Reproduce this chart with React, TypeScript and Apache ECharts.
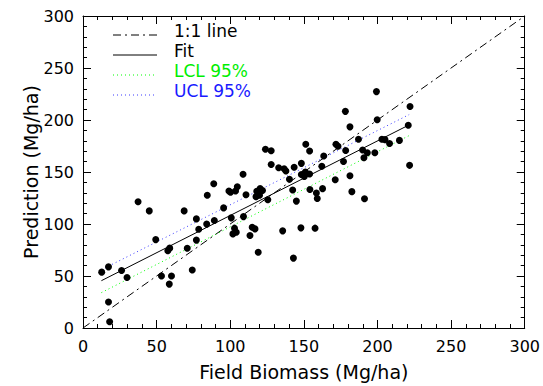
import React, { useEffect, useRef } from "react";
import * as echarts from "echarts";

// Field biomass (x) vs prediction (y), Mg/ha
const fieldBiomass: number[] = [
  12.7, 17.3, 26.2, 29.9, 17.3, 18.1, 37.4, 45.0, 68.7, 49.4,
  57.6, 58.9, 70.8, 53.3, 60.1, 58.6, 74.2, 77.0, 78.6, 77.0,
  84.0, 89.2, 95.5, 84.4, 88.8, 99.1, 100.2, 103.6, 104.8, 110.7,
  108.7, 118.0, 120.3, 121.9, 117.5, 119.9, 100.7, 109.0, 125.5, 102.9,
  104.1, 101.8, 114.9, 116.8, 113.4, 119.0, 123.9, 127.8, 127.8, 132.9,
  136.6, 137.8, 143.4, 148.3, 151.3, 153.9, 140.2, 148.3, 151.0, 150.3,
  153.9, 142.4, 154.1, 158.5, 162.7, 159.1, 144.9, 135.6, 148.0, 157.6,
  142.9, 163.5, 162.2, 171.8, 173.2, 178.4, 176.9, 171.3, 178.2, 181.3,
  187.1, 181.3, 182.6, 191.2, 199.3, 199.8, 203.0, 205.1, 208.2, 214.9,
  189.9, 193.1, 198.2, 190.8, 222.1, 220.9, 221.8,
];
const prediction: number[] = [
  53.7, 58.8, 55.3, 48.6, 25.0, 6.0, 121.4, 112.6, 112.6, 85.0,
  74.2, 76.8, 76.6, 50.0, 50.0, 42.2, 55.8, 104.9, 95.0, 84.5,
  99.9, 103.3, 115.5, 127.6, 138.7, 131.8, 130.5, 131.8, 135.8, 128.1,
  147.8, 131.5, 134.2, 132.2, 126.3, 127.6, 105.9, 107.1, 123.4, 96.0,
  92.1, 90.5, 96.9, 95.3, 88.9, 72.9, 171.9, 170.4, 157.2, 154.1,
  153.2, 151.0, 154.5, 158.3, 176.6, 170.2, 143.1, 147.6, 150.0, 145.7,
  148.1, 132.7, 133.2, 129.8, 134.0, 124.6, 122.0, 93.4, 96.3, 96.0,
  67.2, 165.4, 155.5, 176.6, 174.7, 170.6, 160.1, 142.6, 208.3, 193.4,
  181.5, 146.4, 131.1, 124.3, 227.3, 200.2, 181.5, 181.1, 177.4, 180.4,
  171.1, 168.5, 168.5, 163.7, 212.9, 194.9, 156.4,
];

const oneToOneLine: number[][] = [[0, 0], [300, 300]];
const fitLine: number[][] = [[12.5, 45.5], [221.5, 195.3]];
const lclLine: number[][] = [[12.5, 34.0], [221.5, 185.0]];
const uclLine: number[][] = [[12.5, 56.0], [221.5, 205.2]];

const legendLabels: string[] = ["1:1 line", "Fit", "LCL 95%", "UCL 95%"];
const axisMin = 0;
const axisMax = 300;
const axisStep = 50;

const FONT = "DejaVu Sans";

export default function App() {
  const ref = useRef<HTMLDivElement>(null);

  useEffect(() => {
    if (!ref.current) return;
    const chart = echarts.init(ref.current, null, { renderer: "svg" });
    const points = fieldBiomass.map((x, i) => [x, prediction[i]]);

    const frameAxis = (pos: string, showLabel: boolean, isX: boolean, name?: string) => ({
      type: "value",
      position: pos,
      min: axisMin,
      max: axisMax,
      interval: axisStep,
      name: name,
      nameLocation: "middle",
      nameGap: isX ? 34 : 43,
      nameMoveOverlap: isX ? undefined : false,
      nameTextStyle: { fontFamily: FONT, fontSize: 19, color: "#000" },
      axisLine: { show: true, onZero: false, lineStyle: { color: "#000", width: 1 } },
      axisTick: { show: true, inside: true, length: 8, lineStyle: { color: "#000", width: 1 } },
      minorTick: { show: true, splitNumber: 5, length: 4, lineStyle: { color: "#000", width: 1 } },
      splitLine: { show: false },
      minorSplitLine: { show: false },
      axisLabel: {
        show: showLabel,
        fontFamily: FONT,
        fontSize: 16,
        color: "#000",
        margin: isX ? 10 : 9,
      },
    });

    const legendX1 = 113;
    const legendX2 = 157;
    const legendTextX = 174;
    const legendRows = [31, 51, 71, 91];
    const legendStyles = [
      { stroke: "#000", lineDash: [8, 4, 2, 4], text: "#000" },
      { stroke: "#000", lineDash: null, text: "#000" },
      { stroke: "#00ff00", lineDash: [1, 3], text: "#00ee00" },
      { stroke: "#3a3aff", lineDash: [1, 3], text: "#1a1aff" },
    ];
    const graphic: any[] = [];
    legendLabels.forEach((label, i) => {
      const y = legendRows[i];
      graphic.push({
        type: "line",
        shape: { x1: legendX1, y1: y + 4, x2: legendX2, y2: y + 4 },
        style: { stroke: legendStyles[i].stroke, lineWidth: 1, lineDash: legendStyles[i].lineDash },
      });
      graphic.push({
        type: "text",
        x: legendTextX,
        y: y,
        style: {
          text: label,
          fill: legendStyles[i].text,
          fontFamily: FONT,
          fontSize: 17,
          verticalAlign: "middle",
          align: "left",
        },
      });
    });

    const lineSeries = (name: string, data: number[][], color: string, type: any) => ({
      name,
      type: "line",
      data,
      symbol: "none",
      silent: true,
      lineStyle: { color, width: 1, type },
      z: 3,
    });

    chart.setOption({
      animation: false,
      backgroundColor: "#fff",
      grid: { left: 83, right: 17, top: 16, bottom: 58, containLabel: false },
      xAxis: [
        frameAxis("bottom", true, true, "Field Biomass (Mg/ha)"),
        frameAxis("top", false, true),
      ],
      yAxis: [
        frameAxis("left", true, false, "Prediction (Mg/ha)"),
        frameAxis("right", false, false),
      ],
      graphic,
      series: [
        lineSeries("1:1 line", oneToOneLine, "#000", [8, 4, 2, 4]),
        lineSeries("Fit", fitLine, "#000", "solid"),
        lineSeries("LCL 95%", lclLine, "#00ff00", [1, 3]),
        lineSeries("UCL 95%", uclLine, "#3a3aff", [1, 3]),
        {
          name: "Samples",
          type: "scatter",
          data: points,
          symbol: "circle",
          symbolSize: 7,
          itemStyle: { color: "#000", opacity: 1 },
          z: 4,
        },
      ],
    });

    return () => chart.dispose();
  }, []);

  return (
    <div
      ref={ref}
      style={{ position: "fixed", left: 0, top: 0, width: 543, height: 386, background: "#fff" }}
    />
  );
}
